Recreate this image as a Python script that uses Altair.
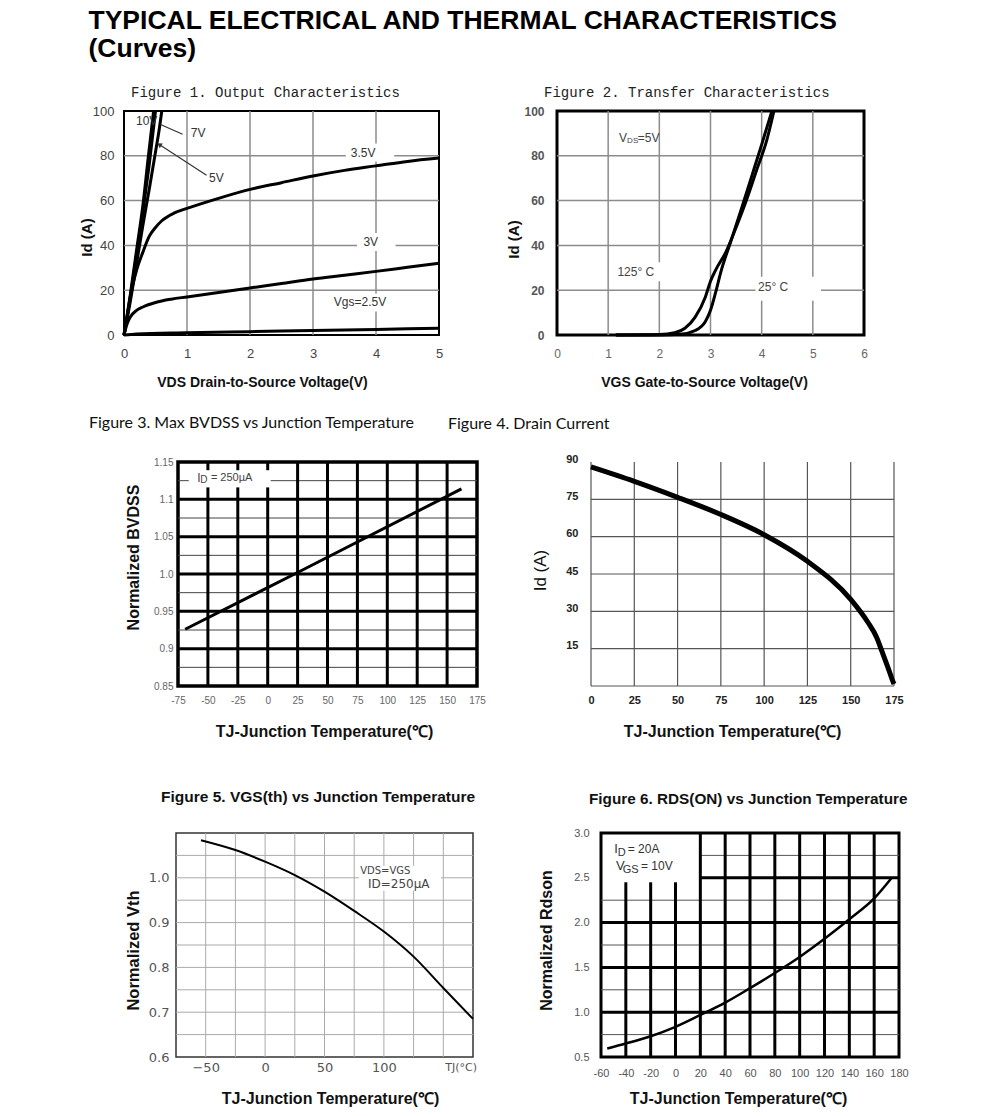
import altair as alt
import pandas as pd

SANS = "Liberation Sans, Arial, sans-serif"
NARROW = "Liberation Sans Narrow, Liberation Sans, sans-serif"
MONO = "Liberation Mono, monospace"
CAL = "Lato, sans-serif"
WIDE = "DejaVu Sans, sans-serif"

# ---------------- Figure 1: Output characteristics ----------------
f1_x_10v = [0, 0.1, 0.2, 0.3, 0.38, 0.47]
f1_y_10v = [0, 18, 38, 58, 78, 100]
f1_x_7v = [0, 0.1, 0.2, 0.3, 0.4, 0.5]
f1_y_7v = [0, 17, 36, 55, 76, 100]
f1_x_5v = [0, 0.1, 0.2, 0.3, 0.4, 0.46, 0.52, 0.56, 0.6]
f1_y_5v = [0, 15, 32, 49, 65, 75, 85, 92, 100]
f1_x_35v = [0, 0.05, 0.1, 0.2, 0.3, 0.4, 0.5, 0.6, 0.8, 1.0, 1.5, 2, 2.5, 3, 3.5, 4, 4.5, 5]
f1_y_35v = [0, 8, 17, 29, 37, 44, 48, 51, 54.5, 56.5, 61, 65, 68, 71, 73.5, 75.5, 77.5, 79]
f1_x_3v = [0, 0.05, 0.1, 0.2, 0.3, 0.5, 0.75, 1, 1.5, 2, 2.5, 3, 3.5, 4, 4.5, 5]
f1_y_3v = [0, 5, 8, 11, 12.5, 14.5, 16, 17, 19, 21, 23, 25, 26.7, 28.4, 30.2, 32]
f1_x_25v = [0, 0.2, 1, 2, 3, 4, 5]
f1_y_25v = [0, 0.5, 1, 1.5, 2, 2.5, 3]
f1_labels = ["10V", "7V", "5V", "3.5V", "3V", "Vgs=2.5V"]
f1_label_x = [0.19, 1.06, 1.35, 3.6, 3.8, 3.33]
f1_label_y = [95.5, 90.3, 70.3, 81.4, 41.3, 14.6]
f1_bg_x = [3.52, 3.7, 3.3]
f1_bg_x2 = [4.29, 4.31, 4.3]
f1_bg_y = [77.5, 37.5, 10.5]
f1_bg_y2 = [85.5, 45.5, 18.5]
f1_lead_7v_x = [0.93, 0.58]
f1_lead_7v_y = [89.6, 94]
f1_lead_5v_x = [1.31, 0.56]
f1_lead_5v_y = [71.3, 85.0]

# ---------------- Figure 2: Transfer characteristics ----------------
f2_x_125 = [1.15, 2.0, 2.3, 2.5, 2.7, 2.9, 3.0, 3.1, 3.3, 3.5, 3.7, 3.9, 4.1, 4.24]
f2_y_125 = [0, 0.2, 1, 3, 8, 17, 24, 29, 37, 48, 60, 73.5, 87, 100]
f2_x_25 = [1.15, 2.0, 2.4, 2.7, 2.9, 3.0, 3.1, 3.2, 3.4, 3.6, 3.8, 4.0, 4.2]
f2_y_25 = [0, 0, 0.3, 2, 6, 11, 19, 28, 42, 56, 70.5, 85, 100]
f2_text = ["V", "DS", "=5V", "125° C", "25° C"]
f2_text_x = [1.21, 1.37, 1.58, 1.18, 3.93]
f2_text_y = [88, 86.7, 88, 28, 21.5]
f2_text_size = [12, 8, 12, 12, 12]
f2_bg_x = [1.12, 3.88]
f2_bg_x2 = [2.12, 5.16]
f2_bg_y = [24, 15.3]
f2_bg_y2 = [32.5, 26]

# ---------------- Figure 3: BVdss vs Tj ----------------
f3_t = [-69, 25, 162]
f3_bv = [0.926, 1.002, 1.114]
f3_v_thick = [-50, -25, 0, 25, 50, 75, 100, 125, 150]
f3_h_thick = [0.9, 0.95, 1.0, 1.05, 1.1]
f3_h_thin = [0.875, 0.925, 0.975, 1.025, 1.075, 1.125]
f3_note_clear = [-66, 2.5, 1.116, 1.139]
f3_note = ["I", "D", "= 250µA"]
f3_note_x = [-59, -56.3, -47.5]
f3_note_y = [1.129, 1.1255, 1.129]
f3_note_size = [12, 10, 11]

# ---------------- Figure 4: Drain current vs Tj ----------------
f4_t = [0, 25, 50, 75, 100, 125, 150, 160, 165, 168, 172, 174, 175]
f4_id = [88, 82.2, 75.8, 68.9, 60.8, 50.1, 34.8, 25.5, 19.5, 14, 6.5, 2.5, 0.8]
f4_v_grid = [0, 25, 50, 75, 100, 125, 150, 175]
f4_h_grid = [0, 15, 30, 45, 60, 75]

# ---------------- Figure 5: Vth vs Tj ----------------
f5_t = [-54, -25, 0, 25, 50, 75, 100, 125, 150, 175]
f5_v = [1.084, 1.062, 1.036, 1.006, 0.969, 0.926, 0.880, 0.824, 0.754, 0.685]
f5_v_grid = [-50, -25, 0, 25, 50, 75, 100, 125, 150]
f5_h_grid = [0.65, 0.7, 0.75, 0.8, 0.85, 0.9, 0.95, 1.0, 1.05]
f5_note = ["VDS=VGS", "ID=250µA"]
f5_note_x = [80, 86.6]
f5_note_y = [1.016, 0.987]
f5_note_size = [10, 12]
f5_bg = [79, 148, 0.971, 1.027]

# ---------------- Figure 6: Rdson vs Tj ----------------
f6_t = [-55, -40, -20, 0, 20, 40, 60, 80, 100, 120, 140, 160, 174]
f6_r = [0.594, 0.65, 0.732, 0.837, 0.969, 1.107, 1.268, 1.437, 1.617, 1.819, 2.037, 2.27, 2.498]
f6_v_thick = [-40, -20, 0, 20, 40, 60, 80, 100, 120, 140, 160]
f6_h_thick = [1.0, 1.5, 2.0, 2.5]
f6_h_thin = [0.75, 1.25, 1.75, 2.25, 2.75]
f6_legend_clear = [-60, 20, 2.45, 3.0]
f6_note = ["I", "D", "= 20A", "V", "GS", "= 10V"]
f6_note_x = [-49.3, -46.6, -38.5, -47.9, -42.5, -27.8]
f6_note_y = [2.82, 2.78, 2.82, 2.63, 2.59, 2.63]
f6_note_size = [13, 11, 12, 13, 11, 12]


# ---------------- helpers ----------------
def curves_df(series):
    rows = []
    for name, xs, ys in series:
        for i, (x, y) in enumerate(zip(xs, ys)):
            rows.append({"s": name, "i": i, "x": x, "y": y})
    return pd.DataFrame(rows)


def text_df(texts, xs, ys, sizes):
    return pd.DataFrame({"t": texts, "x": xs, "y": ys, "s": sizes})


def vsegs(xs, y0, y1, clear=None):
    rows = []
    for x in xs:
        if clear and clear[0] <= x < clear[1]:
            if clear[2] > y0:
                rows.append({"x": x, "y": y0, "y2": clear[2]})
            if clear[3] < y1:
                rows.append({"x": x, "y": clear[3], "y2": y1})
        else:
            rows.append({"x": x, "y": y0, "y2": y1})
    return pd.DataFrame(rows)


def hsegs(ys, x0, x1, clear=None):
    rows = []
    for y in ys:
        if clear and clear[2] <= y <= clear[3]:
            if clear[0] > x0:
                rows.append({"y": y, "x": x0, "x2": clear[0]})
            if clear[1] < x1:
                rows.append({"y": y, "x": clear[1], "x2": x1})
        else:
            rows.append({"y": y, "x": x0, "x2": x1})
    return pd.DataFrame(rows)


def base_axis(**kw):
    d = dict(grid=False, ticks=False, domain=False, labelFlush=False, labelOverlap=False)
    d.update(kw)
    return alt.Axis(**d)


def vrule(df, X, Y, color, width):
    return alt.Chart(df).mark_rule(color=color, strokeWidth=width).encode(x=X, y=Y, y2="y2:Q")


def hrule(df, X, Y, color, width):
    return alt.Chart(df).mark_rule(color=color, strokeWidth=width).encode(y=Y, x=X, x2="x2:Q")


def curve(df, X, Y, width, interp="monotone"):
    return alt.Chart(df).mark_line(color="black", strokeWidth=width, interpolate=interp).encode(
        x=X, y=Y, detail="s:N", order="i:Q")


def texts(df, X, Y, font, color, weight="normal"):
    return alt.Chart(df).mark_text(align="left", baseline="middle", font=font, color=color,
                                   fontWeight=weight).encode(
        x=X, y=Y, text="t:N", size=alt.Size("s:Q", scale=None, legend=None))


def bg(df, X, Y):
    return alt.Chart(df).mark_rect(color="white").encode(x=X, x2="x2:Q", y=Y, y2="y2:Q")


def spacer(w, h):
    return alt.Chart(pd.DataFrame({"a": [0]})).mark_point(size=0, opacity=0).encode(
        x=alt.value(0), y=alt.value(0)).properties(width=w, height=h)


TJ_TITLE = "TJ-Junction Temperature(℃)"
HYPHEN = "replace(datum.label, '−', '-')"

# ---------------- Figure 1 ----------------
X1 = alt.X("x:Q", scale=alt.Scale(domain=[0, 5], nice=False, zero=False),
           title="VDS Drain-to-Source Voltage(V)",
           axis=base_axis(values=[0, 1, 2, 3, 4, 5], labelFont=NARROW, labelFontSize=13, labelColor="#444",
                          labelPadding=12, titleFont=SANS, titleFontSize=14, titleFontWeight="bold",
                          titleColor="#111", titleX=138, titleY=40, titleAlign="center", titleBaseline="top"))
Y1 = alt.Y("y:Q", scale=alt.Scale(domain=[0, 100], nice=False, zero=False), title="Id (A)",
           axis=base_axis(values=[0, 20, 40, 60, 80, 100], labelFont=NARROW, labelFontSize=13, labelColor="#444",
                          labelPadding=10, titleFont=SANS, titleFontSize=15, titleFontWeight="bold",
                          titleColor="#111", titleAngle=270, titleX=-30, titleY=126, titleAlign="center",
                          titleBaseline="bottom"))
f1_curves = curves_df([("10V", f1_x_10v, f1_y_10v), ("7V", f1_x_7v, f1_y_7v), ("5V", f1_x_5v, f1_y_5v),
                       ("3.5V", f1_x_35v, f1_y_35v), ("3V", f1_x_3v, f1_y_3v), ("2.5V", f1_x_25v, f1_y_25v)])
f1_leads = curves_df([("7V", f1_lead_7v_x, f1_lead_7v_y), ("5V", f1_lead_5v_x, f1_lead_5v_y)])
f1_bgdf = pd.DataFrame({"x": f1_bg_x, "x2": f1_bg_x2, "y": f1_bg_y, "y2": f1_bg_y2})
f1_head = pd.DataFrame({"x": [f1_lead_5v_x[-1]], "y": [f1_lead_5v_y[-1]]})
fig1 = alt.layer(
    vrule(vsegs([1, 2, 3, 4], 0, 100), X1, Y1, "#8c8c8c", 1.5),
    hrule(hsegs([20, 40, 60, 80], 0, 5), X1, Y1, "#8c8c8c", 1.5),
    bg(f1_bgdf, X1, Y1),
    curve(f1_curves, X1, Y1, 3),
    alt.Chart(f1_leads).mark_line(color="#333", strokeWidth=1.2).encode(x=X1, y=Y1, detail="s:N", order="i:Q"),
    alt.Chart(f1_head).mark_point(shape="triangle-up", filled=True, color="#333", size=30, angle=303,
                                  opacity=1).encode(x=X1, y=Y1),
    texts(text_df(f1_labels, f1_label_x, f1_label_y, [12] * 6), X1, Y1, SANS, "#333"),
).properties(width=315, height=224,
             title=alt.TitleParams("Figure 1. Output Characteristics", font=MONO, fontSize=14,
                                   fontWeight="normal", color="#222", anchor="start", frame="group",
                                   dx=7, offset=5),
             view=alt.ViewConfig(stroke="black", strokeWidth=2))

# ---------------- Figure 2 ----------------
X2 = alt.X("x:Q", scale=alt.Scale(domain=[0, 6], nice=False, zero=False),
           title="VGS Gate-to-Source Voltage(V)",
           axis=base_axis(values=[0, 1, 2, 3, 4, 5, 6], labelFont=SANS, labelFontSize=12, labelColor="#666",
                          labelPadding=13, titleFont=SANS, titleFontSize=14, titleFontWeight="bold",
                          titleColor="#111", titleX=147, titleY=40, titleAlign="center", titleBaseline="top"))
Y2 = alt.Y("y:Q", scale=alt.Scale(domain=[0, 100], nice=False, zero=False), title="Id (A)",
           axis=base_axis(values=[0, 20, 40, 60, 80, 100], labelFont=SANS, labelFontSize=12, labelColor="#555",
                          labelFontWeight="bold", labelPadding=13, titleFont=SANS, titleFontSize=15,
                          titleFontWeight="bold", titleColor="#111", titleAngle=270, titleX=-36, titleY=128,
                          titleAlign="center", titleBaseline="bottom"))
f2_curves = curves_df([("125C", f2_x_125, f2_y_125), ("25C", f2_x_25, f2_y_25)])
f2_bgdf = pd.DataFrame({"x": f2_bg_x, "x2": f2_bg_x2, "y": f2_bg_y, "y2": f2_bg_y2})
fig2 = alt.layer(
    vrule(vsegs([1, 2, 3, 4, 5], 0, 100), X2, Y2, "#8c8c8c", 1.5),
    hrule(hsegs([20, 40, 60, 80], 0, 6), X2, Y2, "#8c8c8c", 1.5),
    bg(f2_bgdf, X2, Y2),
    curve(f2_curves, X2, Y2, 3),
    texts(text_df(f2_text, f2_text_x, f2_text_y, f2_text_size), X2, Y2, SANS, "#444"),
).properties(width=307, height=224,
             title=alt.TitleParams("Figure 2. Transfer Characteristics", font=MONO, fontSize=14,
                                   fontWeight="normal", color="#222", anchor="start", frame="group",
                                   dx=-13, offset=5),
             view=alt.ViewConfig(stroke="black", strokeWidth=3))

# ---------------- Figure 3 ----------------
X3 = alt.X("x:Q", scale=alt.Scale(domain=[-75, 175], nice=False, zero=False), title=TJ_TITLE,
           axis=base_axis(values=[-75, -50, -25, 0, 25, 50, 75, 100, 125, 150, 175], labelFont=SANS,
                          labelFontSize=10, labelColor="#666", labelPadding=9, labelExpr=HYPHEN,
                          titleFont=SANS, titleFontSize=16,
                          titleFontWeight="bold", titleColor="#111", titleX=146, titleY=37, titleAlign="center",
                          titleBaseline="top"))
Y3 = alt.Y("y:Q", scale=alt.Scale(domain=[0.85, 1.15], nice=False, zero=False), title="Normalized BVDSS",
           axis=base_axis(values=[0.85, 0.9, 0.95, 1.0, 1.05, 1.1, 1.15], labelFont=SANS, labelFontSize=10,
                          labelColor="#666", labelPadding=5,
                          labelExpr="datum.value == 1 ? '1.0' : format(datum.value, '.2~f')",
                          titleFont=SANS, titleFontSize=16, titleFontWeight="bold", titleColor="#111",
                          titleAngle=270, titleX=-37, titleY=95, titleAlign="center", titleBaseline="bottom"))
fig3 = alt.layer(
    hrule(hsegs(f3_h_thin, -75, 175, f3_note_clear), X3, Y3, "#444", 1),
    vrule(vsegs(f3_v_thick, 0.85, 1.15, f3_note_clear), X3, Y3, "black", 3),
    hrule(hsegs(f3_h_thick, -75, 175), X3, Y3, "black", 3),
    curve(curves_df([("bv", f3_t, f3_bv)]), X3, Y3, 3, "linear"),
    texts(text_df(f3_note, f3_note_x, f3_note_y, f3_note_size), X3, Y3, SANS, "#444"),
).properties(width=299, height=224,
             title=alt.TitleParams("Figure 3. Max BVDSS vs Junction Temperature", font=CAL, fontSize=16,
                                   fontWeight="normal", color="#111", anchor="start", frame="group",
                                   dx=-89, offset=26),
             view=alt.ViewConfig(stroke="black", strokeWidth=3.5))

# ---------------- Figure 4 ----------------
X4 = alt.X("x:Q", scale=alt.Scale(domain=[0, 175], nice=False, zero=False), title=TJ_TITLE,
           axis=base_axis(values=[0, 25, 50, 75, 100, 125, 150, 175], labelFont=SANS, labelFontSize=11,
                          labelFontWeight="bold", labelColor="#222", labelPadding=8, titleFont=SANS,
                          titleFontSize=16, titleFontWeight="bold", titleColor="#111", titleX=141, titleY=37,
                          titleAlign="center", titleBaseline="top"))
Y4 = alt.Y("y:Q", scale=alt.Scale(domain=[0, 90], nice=False, zero=False), title="Id (A)",
           axis=base_axis(values=[15, 30, 45, 60, 75, 90], labelFont=SANS, labelFontSize=11,
                          labelFontWeight="bold", labelColor="#222", labelPadding=13, labelOffset=-3,
                          titleFont=SANS, titleFontSize=17, titleFontWeight="normal", titleColor="#111",
                          titleAngle=270, titleX=-42, titleY=108, titleAlign="center", titleBaseline="bottom"))
fig4 = alt.layer(
    vrule(vsegs(f4_v_grid, 0, 90), X4, Y4, "#555", 1.2),
    hrule(hsegs(f4_h_grid, 0, 175), X4, Y4, "#555", 1.2),
    curve(curves_df([("id", f4_t, f4_id)]), X4, Y4, 5),
).properties(width=303, height=224,
             title=alt.TitleParams("Figure 4. Drain Current", font=CAL, fontSize=16, fontWeight="normal",
                                   color="#111", anchor="start", frame="group", dx=-143, offset=21),
             view=alt.ViewConfig(stroke="transparent"))

# ---------------- Figure 5 ----------------
X5 = alt.X("x:Q", scale=alt.Scale(domain=[-75, 175], nice=False, zero=False), title=TJ_TITLE,
           axis=base_axis(values=[-50, 0, 50, 100], labelFont=WIDE, labelFontSize=13, labelColor="#555",
                          labelPadding=4,
                          titleFont=SANS, titleFontSize=16, titleFontWeight="bold", titleColor="#111",
                          titleX=154, titleY=33, titleAlign="center", titleBaseline="top"))
Y5 = alt.Y("y:Q", scale=alt.Scale(domain=[0.6, 1.1], nice=False, zero=False), title="Normalized Vth",
           axis=base_axis(values=[0.6, 0.7, 0.8, 0.9, 1.0], labelFont=WIDE, labelFontSize=13, labelColor="#555",
                          labelPadding=7, labelExpr="format(datum.value, '.1f')",
                          titleFont=SANS, titleFontSize=16.5, titleFontWeight="bold", titleColor="#111",
                          titleAngle=270, titleX=-35, titleY=117, titleAlign="center", titleBaseline="bottom"))
f5_bgdf = pd.DataFrame({"x": [f5_bg[0]], "x2": [f5_bg[1]], "y": [f5_bg[2]], "y2": [f5_bg[3]]})
fig5 = alt.layer(
    vrule(vsegs(f5_v_grid, 0.6, 1.1), X5, Y5, "#aaa", 1),
    hrule(hsegs(f5_h_grid, -75, 175), X5, Y5, "#aaa", 1),
    bg(f5_bgdf, X5, Y5),
    curve(curves_df([("vth", f5_t, f5_v)]), X5, Y5, 2),
    texts(text_df(f5_note, f5_note_x, f5_note_y, f5_note_size), X5, Y5, WIDE, "#444"),
    alt.Chart(pd.DataFrame({"x": [165], "y": [0.6], "t": ["TJ(°C)"]})).mark_text(
        font=WIDE, fontSize=11, color="#555", baseline="top", dy=5).encode(x=X5, y=Y5, text="t:N"),
).properties(width=297, height=224,
             title=alt.TitleParams("Figure 5. VGS(th) vs Junction Temperature", font=SANS, fontSize=15.5,
                                   fontWeight="bold", color="#111", anchor="start", frame="group",
                                   dx=-15, offset=27),
             view=alt.ViewConfig(stroke="#333", strokeWidth=1.5))

# ---------------- Figure 6 ----------------
X6 = alt.X("x:Q", scale=alt.Scale(domain=[-60, 180], nice=False, zero=False), title=TJ_TITLE,
           axis=base_axis(values=[-60, -40, -20, 0, 20, 40, 60, 80, 100, 120, 140, 160, 180], labelFont=SANS,
                          labelFontSize=11, labelColor="#555", labelPadding=10, labelExpr=HYPHEN,
                          titleFont=SANS,
                          titleFontSize=16, titleFontWeight="bold", titleColor="#111", titleX=137, titleY=33,
                          titleAlign="center", titleBaseline="top"))
Y6 = alt.Y("y:Q", scale=alt.Scale(domain=[0.5, 3.0], nice=False, zero=False), title="Normalized Rdson",
           axis=base_axis(values=[0.5, 1.0, 1.5, 2.0, 2.5, 3.0], labelFont=SANS, labelFontSize=11,
                          labelColor="#555", labelPadding=12, labelExpr="format(datum.value, '.1f')",
                          titleFont=SANS, titleFontSize=16, titleFontWeight="bold", titleColor="#111",
                          titleAngle=270, titleX=-47, titleY=107, titleAlign="center", titleBaseline="bottom"))
fig6 = alt.layer(
    hrule(hsegs(f6_h_thin, -60, 180, f6_legend_clear), X6, Y6, "#555", 1),
    vrule(vsegs(f6_v_thick, 0.5, 3.0, f6_legend_clear), X6, Y6, "black", 3),
    hrule(hsegs(f6_h_thick, -60, 180, f6_legend_clear), X6, Y6, "black", 3),
    curve(curves_df([("rds", f6_t, f6_r)]), X6, Y6, 2.5),
    texts(text_df(f6_note, f6_note_x, f6_note_y, f6_note_size), X6, Y6, SANS, "#333"),
).properties(width=298, height=224,
             title=alt.TitleParams("Figure 6. RDS(ON) vs Junction Temperature", font=SANS, fontSize=15.3,
                                   fontWeight="bold", color="#111", anchor="start", frame="group",
                                   dx=-12, offset=20),
             view=alt.ViewConfig(stroke="black", strokeWidth=3))

# ---------------- layout ----------------
row1 = alt.hconcat(spacer(115, 224), fig1, spacer(118, 224), fig2, spacing=0, bounds="flush")
row2 = alt.hconcat(spacer(169, 224), fig3, spacer(114, 224), fig4, spacing=0, bounds="flush")
row3 = alt.hconcat(spacer(167, 224), fig5, spacer(128, 224), fig6, spacing=0, bounds="flush")

chart = alt.vconcat(
    row1, spacer(1, 20), row2, spacer(1, 46), row3, spacing=0,
    title=alt.TitleParams(["TYPICAL ELECTRICAL AND THERMAL CHARACTERISTICS", "(Curves)"], anchor="start",
                          font=SANS, fontSize=26.5, fontWeight="bold", color="black", dx=80, lineHeight=28,
                          offset=22),
    padding={"left": 0, "top": 0, "right": 5, "bottom": 5},
).configure(background="white", view=alt.ViewConfig(stroke="transparent"))

chart.save("out.html", embed_options={"renderer": "svg", "actions": False})
